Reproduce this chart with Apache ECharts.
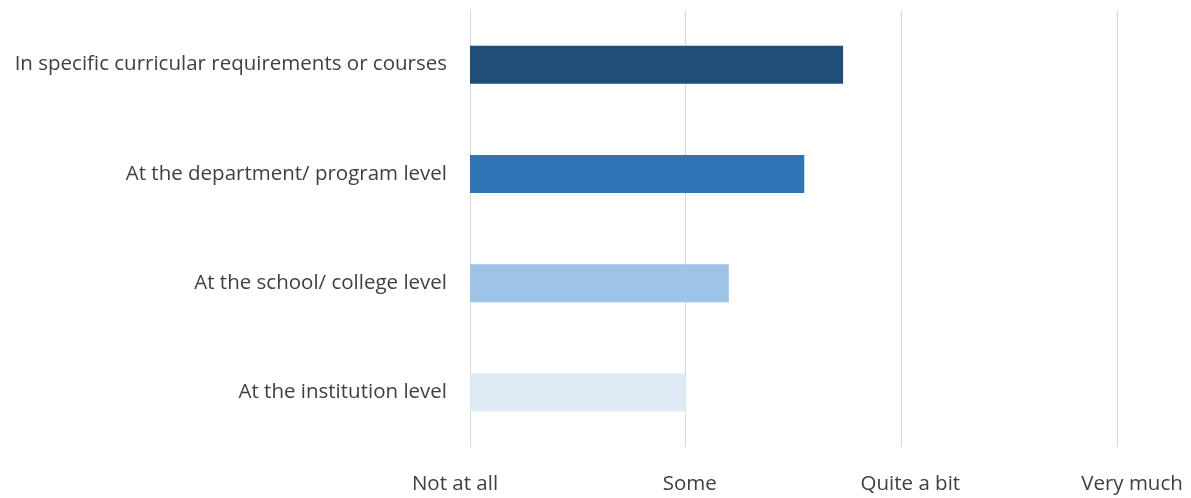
<!DOCTYPE html>
<html>
<head>
<meta charset="utf-8">
<script src="https://cdn.jsdelivr.net/npm/echarts@6/dist/echarts.min.js"></script>
<style>
  html, body { margin: 0; padding: 0; background: #fff; }
  #chart { width: 1191px; height: 498px; }
</style>
</head>
<body>
<div id="chart"></div>
<script>
var categories = [
  "In specific curricular requirements or courses",
  "At the department/ program level",
  "At the school/ college level",
  "At the institution level"
];
var values = [2.73, 2.55, 2.20, 2.00];
var barColors = ["#1F4E79", "#2E75B6", "#9DC3E6", "#DEEBF7"];
var tickLabels = { 1: "Not at all", 2: "Some", 3: "Quite a bit", 4: "Very much" };
// small shifts so the x labels sit where the original put them
var labelShift = { 1: "l", 2: "a", 3: "b", 4: "c" };

var chart = echarts.init(document.getElementById("chart"));
chart.setOption({
  animation: false,
  textStyle: { fontFamily: "Open Sans", color: "#404040" },
  grid: { left: 470, right: 74, top: 10, bottom: 51, containLabel: false },
  xAxis: {
    type: "value",
    min: 1,
    max: 4,
    interval: 1,
    axisLine: { show: false },
    axisTick: { show: false },
    splitLine: { show: true, lineStyle: { color: "#D9D9D9", width: 1 } },
    axisLabel: {
      margin: 27,
      fontSize: 20.5,
      color: "#404040",
      formatter: function (v) {
        return "{" + labelShift[v] + "|" + tickLabels[v] + "}";
      },
      rich: {
        l: { fontSize: 20.5, fontFamily: "Open Sans", color: "#404040", padding: [0, 30, 0, 0] },
        a: { fontSize: 20.5, fontFamily: "Open Sans", color: "#404040", padding: [0, 0, 0, 8] },
        b: { fontSize: 20.5, fontFamily: "Open Sans", color: "#404040", padding: [0, 0, 0, 18] },
        c: { fontSize: 20.5, fontFamily: "Open Sans", color: "#404040", padding: [0, 0, 0, 30] }
      }
    }
  },
  yAxis: {
    type: "category",
    inverse: true,
    data: categories,
    axisLine: { show: true, lineStyle: { color: "#D9D9D9" } },
    axisTick: { show: false },
    axisLabel: { margin: 23, fontSize: 20.5, fontFamily: "Open Sans", color: "#404040" }
  },
  series: [{
    type: "bar",
    barWidth: 38,
    data: values.map(function (v, i) {
      return { value: v, itemStyle: { color: barColors[i] } };
    })
  }]
});
</script>
</body>
</html>
